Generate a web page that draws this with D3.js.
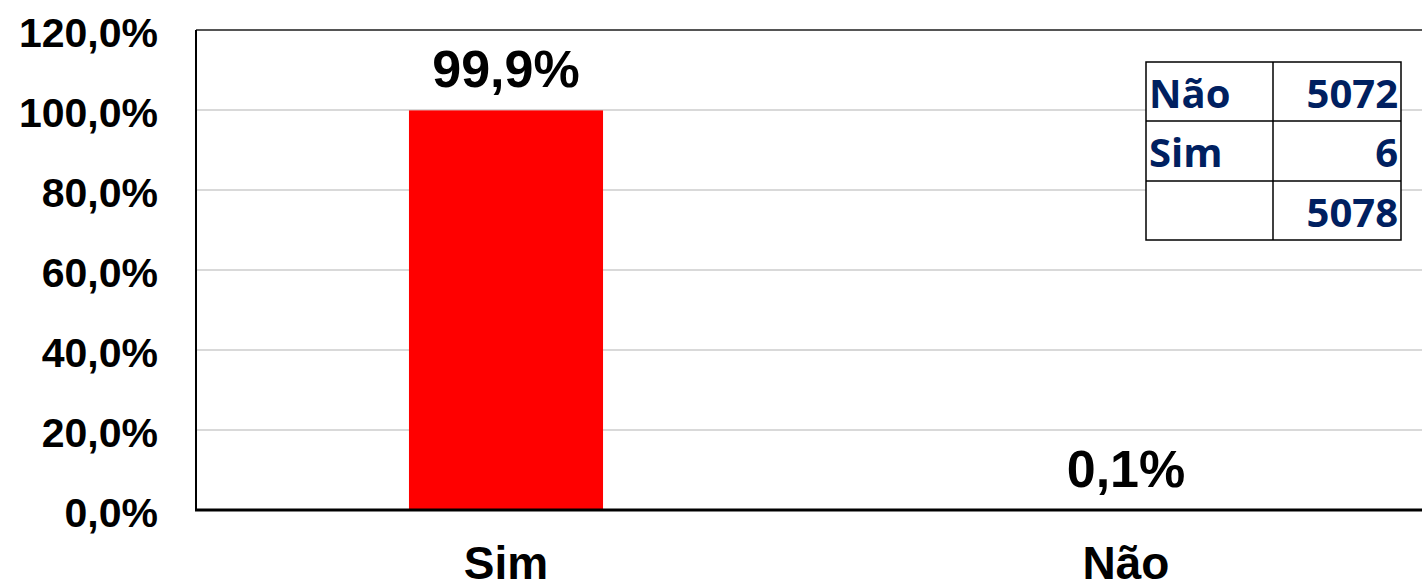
<!DOCTYPE html>
<html><head><meta charset="utf-8">
<script src="https://cdn.jsdelivr.net/npm/d3@7"></script>
<style>html,body{margin:0;padding:0;background:#fff;overflow:hidden}</style>
</head><body>
<svg id="c" width="1422" height="585"></svg>
<script>
const categories = ["Sim", "Não"];
const values = [0.999, 0.001];
const valueLabels = ["99,9%", "0,1%"];
const yTicks = [0, 0.2, 0.4, 0.6, 0.8, 1.0, 1.2];
const tableLabels = ["Não", "Sim", ""];
const tableCounts = [5072, 6, 5078];

(function () {
const svg = d3.select("#c");
const pL = 196, pR = 1436, pT = 30, pB = 510;
const x = d3.scaleBand().domain(categories).range([pL, pR]).paddingInner(0.687).paddingOuter(0.3435);
const y = d3.scaleLinear().domain([0, 1.2]).range([pB, pT]);
const fmt = v => d3.format(".1f")(v * 100).replace(".", ",") + "%";

// gridlines
svg.append("g").selectAll("line").data(yTicks.filter(t => t > 0 && t < 1.2)).join("line")
  .attr("x1", pL).attr("x2", pR).attr("y1", d => y(d)).attr("y2", d => y(d))
  .attr("stroke", "#d9d9d9").attr("stroke-width", 2);

// top border
svg.append("line").attr("x1", pL).attr("x2", pR).attr("y1", y(1.2)).attr("y2", y(1.2))
  .attr("stroke", "#555").attr("stroke-width", 2);

// bars
svg.append("g").selectAll("rect").data(values).join("rect")
  .attr("x", (d, i) => x(categories[i])).attr("width", x.bandwidth())
  .attr("y", d => y(d)).attr("height", d => y(0) - y(d))
  .attr("fill", "#ff0000");

// left axis line
svg.append("line").attr("x1", pL).attr("x2", pL).attr("y1", pT).attr("y2", pB)
  .attr("stroke", "#000").attr("stroke-width", 2);
// bottom axis line
svg.append("line").attr("x1", pL - 1).attr("x2", pR).attr("y1", pB).attr("y2", pB)
  .attr("stroke", "#000").attr("stroke-width", 3);

// y tick labels
svg.append("g").selectAll("text").data(yTicks).join("text")
  .attr("x", 158).attr("y", d => y(d) + 17)
  .attr("text-anchor", "end")
  .attr("font-family", "Liberation Sans, Arial, sans-serif").attr("font-weight", "bold")
  .attr("font-size", 41).attr("fill", "#000")
  .text(d => fmt(d));

// value labels
svg.append("g").selectAll("text").data(values).join("text")
  .attr("x", (d, i) => x(categories[i]) + x.bandwidth() / 2)
  .attr("y", d => y(d) - 23)
  .attr("text-anchor", "middle")
  .attr("font-family", "Liberation Sans, Arial, sans-serif").attr("font-weight", "bold")
  .attr("font-size", 52).attr("fill", "#000")
  .text((d, i) => valueLabels[i]);

// category labels
svg.append("g").selectAll("text").data(categories).join("text")
  .attr("x", d => x(d) + x.bandwidth() / 2)
  .attr("y", 579)
  .attr("text-anchor", "middle")
  .attr("font-family", "Liberation Sans, Arial, sans-serif").attr("font-weight", "bold")
  .attr("font-size", 46).attr("fill", "#000")
  .text(d => d);

// table
const tx0 = 1146, tx1 = 1273, tx2 = 1401;
const ty = [62, 121, 181, 240];
const tg = svg.append("g");
tg.append("rect").attr("x", tx0).attr("y", ty[0]).attr("width", tx2 - tx0).attr("height", ty[3] - ty[0])
  .attr("fill", "#fff").attr("stroke", "#000").attr("stroke-width", 1.5);
tg.append("line").attr("x1", tx1).attr("x2", tx1).attr("y1", ty[0]).attr("y2", ty[3]).attr("stroke", "#000").attr("stroke-width", 1.5);
[ty[1], ty[2]].forEach(v => tg.append("line").attr("x1", tx0).attr("x2", tx2).attr("y1", v).attr("y2", v).attr("stroke", "#000").attr("stroke-width", 1.5));
tg.selectAll("text.l").data(tableLabels).join("text").attr("class", "l")
  .attr("x", tx0 + 3).attr("y", (d, i) => ty[i] + 46)
  .attr("font-family", "Open Sans, sans-serif").attr("font-weight", "bold")
  .attr("font-size", 40).attr("fill", "#002060").text(d => d);
tg.selectAll("text.v").data(tableCounts).join("text").attr("class", "v")
  .attr("x", tx2 - 3).attr("y", (d, i) => ty[i] + 46)
  .attr("text-anchor", "end")
  .attr("font-family", "Open Sans, sans-serif").attr("font-weight", "bold")
  .attr("font-size", 40).attr("fill", "#002060").text(d => d);
})();
</script>
</body></html>
